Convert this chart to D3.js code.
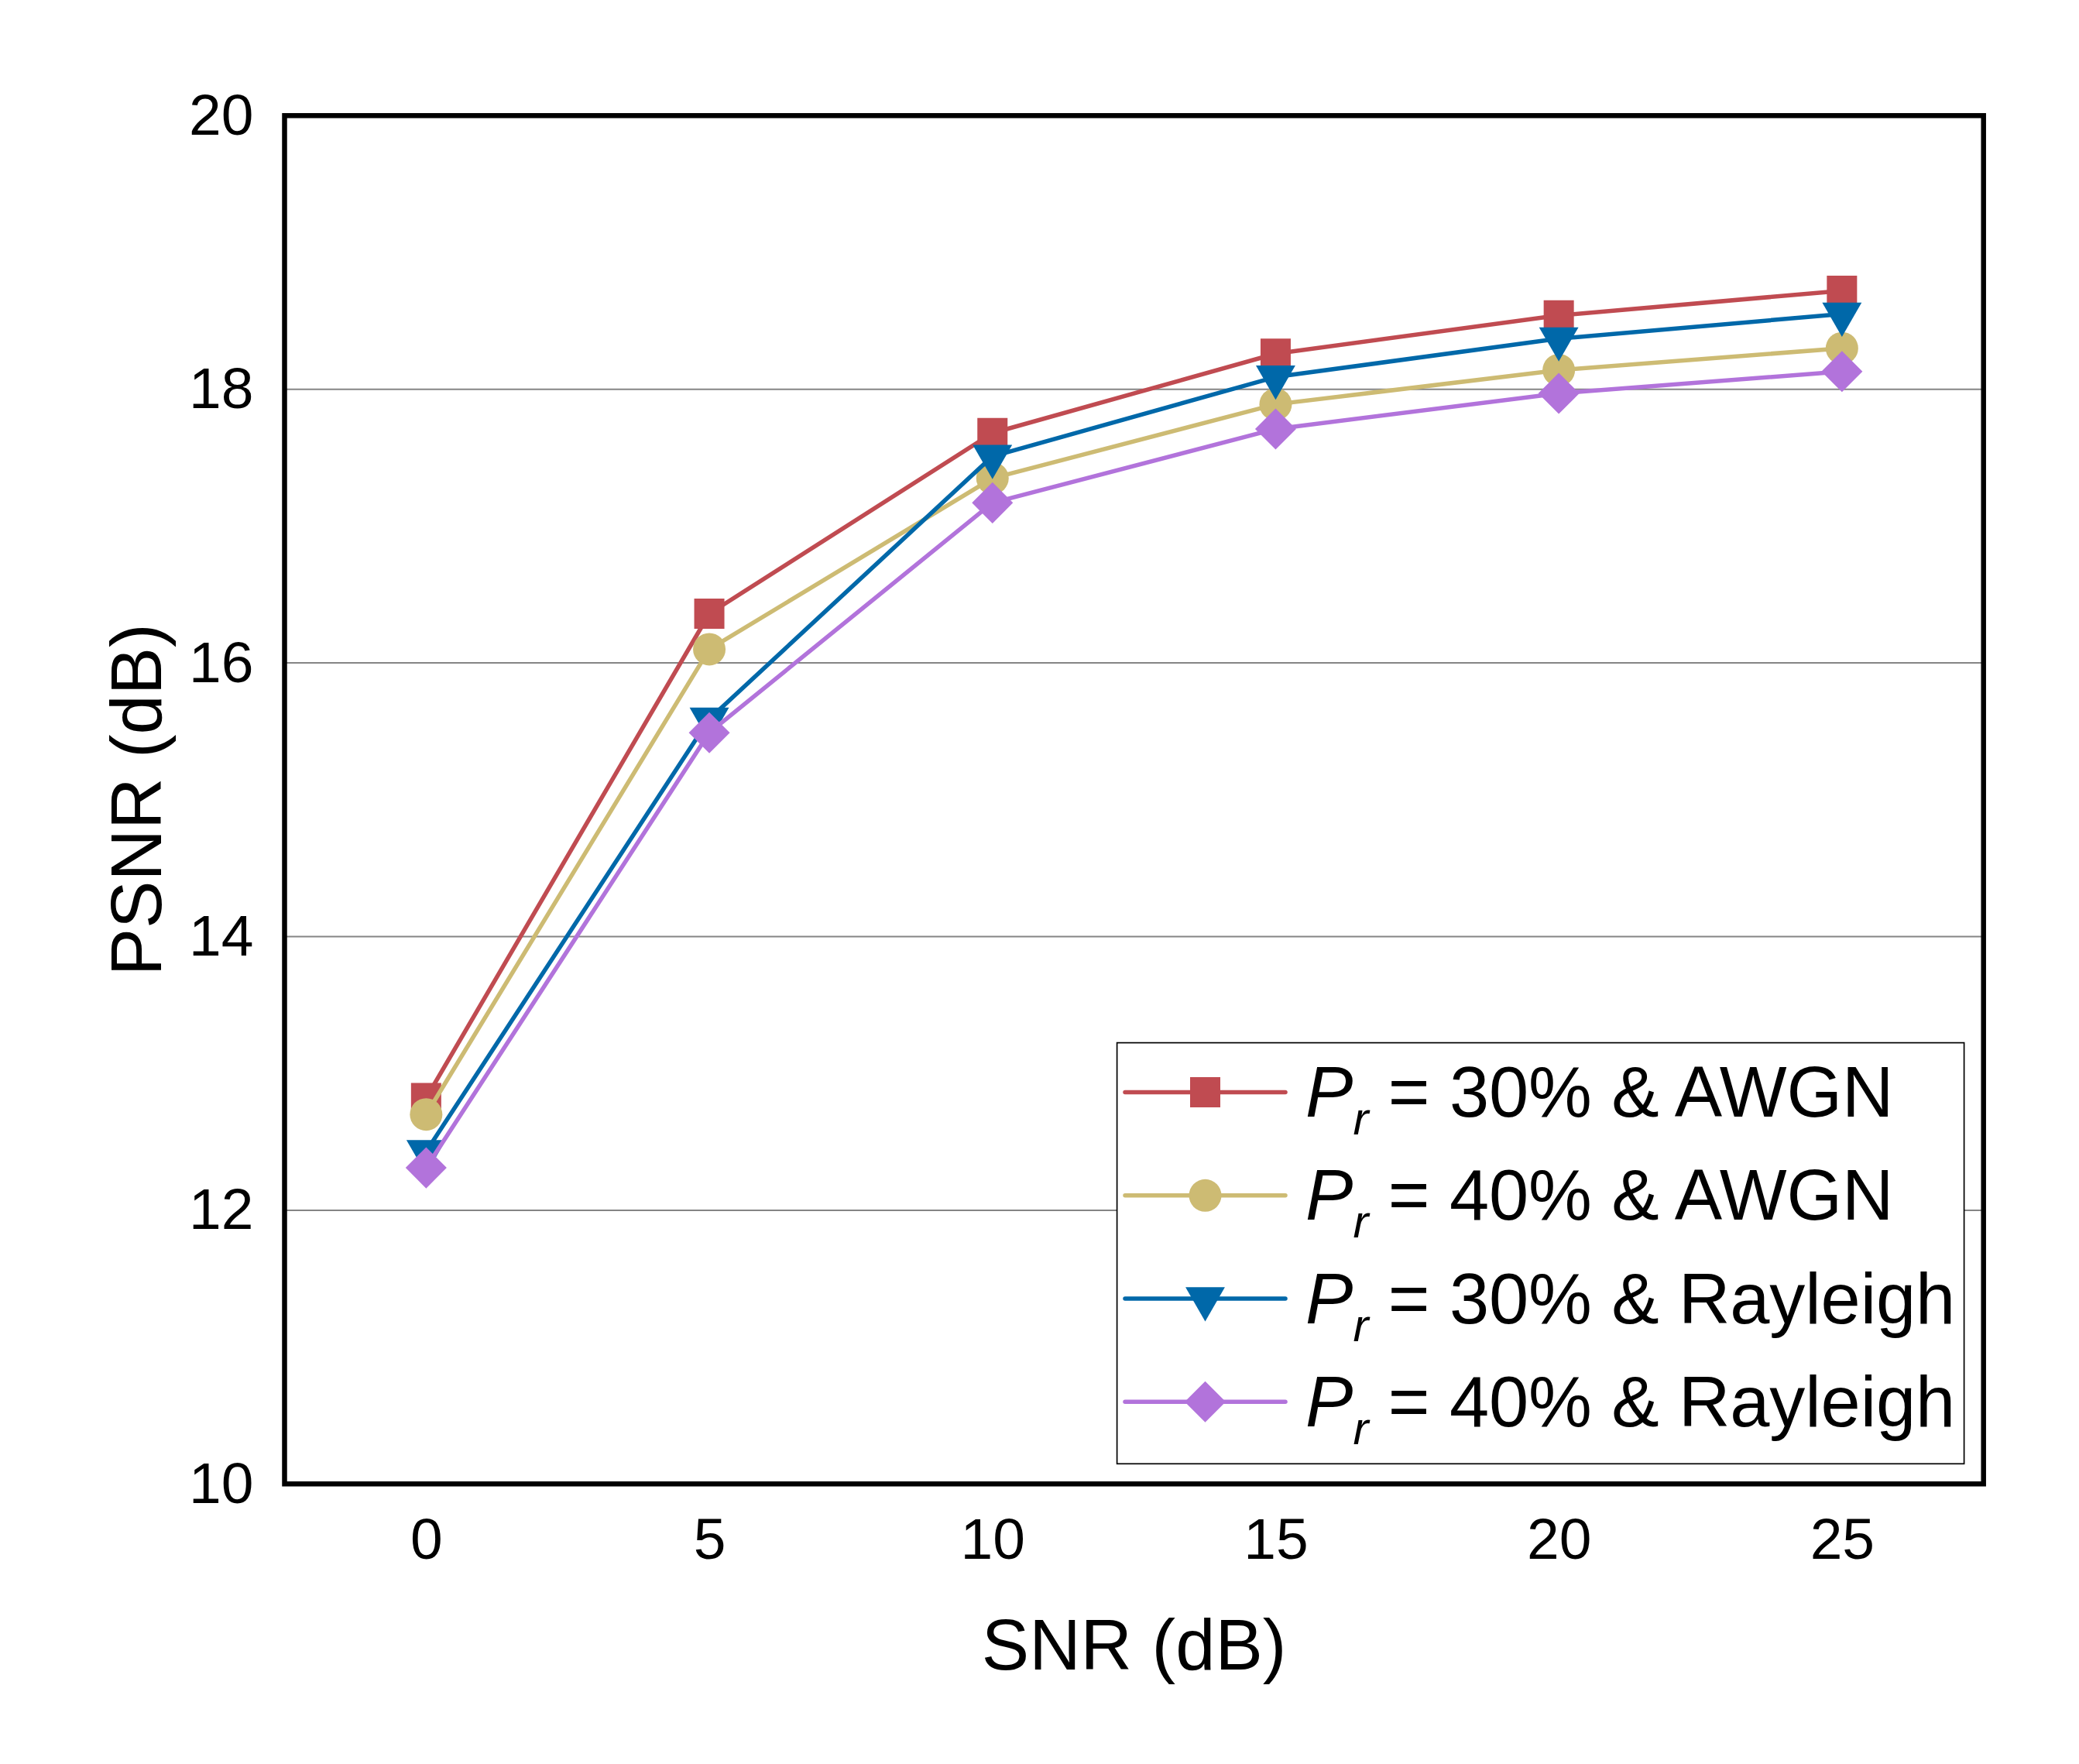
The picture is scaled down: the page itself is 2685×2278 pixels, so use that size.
<!DOCTYPE html>
<html>
<head>
<meta charset="utf-8">
<script src="https://cdn.jsdelivr.net/npm/d3@7"></script>
<style>
  body { margin: 0; background: #ffffff; }
  svg { display: block; font-family: 'Liberation Sans', Arial, sans-serif; }
</style>
</head>
<body>
<svg id="chart"></svg>
<script>
// Values
const snrValues = [0, 5, 10, 15, 20, 25];
const psnrPr30Awgn = [12.82, 16.36, 17.68, 18.26, 18.54, 18.72];
const psnrPr40Awgn = [12.70, 16.10, 17.35, 17.89, 18.14, 18.30];
const psnrPr30Rayleigh = [12.43, 15.59, 17.51, 18.09, 18.37, 18.55];
const psnrPr40Rayleigh = [12.31, 15.49, 17.17, 17.71, 17.97, 18.13];

const prLabels = ['30%', '40%', '30%', '40%'];
const channelLabels = ['AWGN', 'AWGN', 'Rayleigh', 'Rayleigh'];
const yTickValues = [10, 12, 14, 16, 18, 20];
const gridValues = [12, 14, 16, 18];
const xDomain = [-2.5, 27.5];
const yDomain = [10, 20];

const SVGWidth = 2685;
const SVGHeight = 2278;
const plot = {left: 367.5, right: 2561.7, top: 149.3, bottom: 1916.3};

let svg = d3.select('#chart')
  .attr('width', SVGWidth)
  .attr('height', SVGHeight);

svg.append('rect')
  .attr('width', SVGWidth)
  .attr('height', SVGHeight)
  .style('fill', '#ffffff');

let xScale = d3.scaleLinear()
  .domain(xDomain)
  .range([plot.left, plot.right]);

let yScale = d3.scaleLinear()
  .domain(yDomain)
  .range([plot.bottom, plot.top]);

// Horizontal grid lines
svg.append('g')
  .attr('class', 'grid')
  .selectAll('line')
  .data(gridValues)
  .join('line')
  .attr('x1', plot.left)
  .attr('x2', plot.right)
  .attr('y1', d => yScale(d))
  .attr('y2', d => yScale(d))
  .style('stroke', '#858585')
  .style('stroke-width', 2);

// Series: each one draws its line and then its markers
let series = [
  {values: psnrPr30Awgn, color: '#C04B51', symbol: d3.symbolSquare, size: 1521, rotate: 0},
  {values: psnrPr40Awgn, color: '#CDBB73', symbol: d3.symbolCircle, size: 1385, rotate: 0},
  {values: psnrPr30Rayleigh, color: '#0068A9', symbol: d3.symbolTriangle, size: 1122, rotate: 180},
  {values: psnrPr40Rayleigh, color: '#B273DB', symbol: d3.symbolSquare, size: 1406, rotate: 45}
];
series.forEach((s, i) => {
  s.pr = prLabels[i];
  s.channel = channelLabels[i];
  s.points = snrValues.map((x, j) => ({x: x, y: s.values[j]}));
});

let lineGen = d3.line()
  .x(d => xScale(d.x))
  .y(d => yScale(d.y));

let seriesGroup = svg.append('g').attr('class', 'series-group');

series.forEach(s => {
  let g = seriesGroup.append('g');

  g.append('path')
    .datum(s.points)
    .attr('d', lineGen)
    .style('fill', 'none')
    .style('stroke', s.color)
    .style('stroke-width', 5.5)
    .style('stroke-linejoin', 'round');

  g.selectAll('path.marker')
    .data(s.points)
    .join('path')
    .attr('class', 'marker')
    .attr('d', d3.symbol().type(s.symbol).size(s.size))
    .attr('transform', d => `translate(${xScale(d.x)}, ${yScale(d.y)}) rotate(${s.rotate})`)
    .style('fill', s.color);
});

// Plot frame
svg.append('rect')
  .attr('x', plot.left)
  .attr('y', plot.top)
  .attr('width', plot.right - plot.left)
  .attr('height', plot.bottom - plot.top)
  .style('fill', 'none')
  .style('stroke', '#000000')
  .style('stroke-width', 6.5);

// Axes (labels only, the frame stands in for the domain)
let yAxis = svg.append('g')
  .attr('transform', `translate(${plot.left}, 0)`)
  .call(d3.axisLeft(yScale).tickValues(yTickValues).tickSize(0).tickPadding(40));

let xAxis = svg.append('g')
  .attr('transform', `translate(0, ${plot.bottom})`)
  .call(d3.axisBottom(xScale).tickValues(snrValues).tickSize(0).tickPadding(43));

[yAxis, xAxis].forEach(ax => {
  ax.select('.domain').remove();
  ax.selectAll('text')
    .style('font-family', "'Liberation Sans', Arial, sans-serif")
    .style('font-size', '75px')
    .style('fill', '#000000');
});

// Axis titles
svg.append('text')
  .attr('x', (plot.left + plot.right) / 2)
  .attr('y', 2156)
  .style('font-size', '92px')
  .style('text-anchor', 'middle')
  .text('SNR (dB)');

svg.append('text')
  .attr('transform', `translate(207.7, ${(plot.top + plot.bottom) / 2}) rotate(-90)`)
  .style('font-size', '92px')
  .style('text-anchor', 'middle')
  .text('PSNR (dB)');

// Legend
let legendPos = {x: 1442.6, y: 1346.6, width: 1094, height: 543.7};
let legendRowY = i => 1410.6 + i * 133.2;

let legendGroup = svg.append('g').attr('class', 'legend-group');

legendGroup.append('rect')
  .attr('x', legendPos.x)
  .attr('y', legendPos.y)
  .attr('width', legendPos.width)
  .attr('height', legendPos.height)
  .style('fill', '#ffffff')
  .style('stroke', '#000000')
  .style('stroke-width', 1.7);

let legendItems = legendGroup.selectAll('g.legend-item')
  .data(series)
  .join('g')
  .attr('class', 'legend-item')
  .attr('transform', (d, i) => `translate(0, ${legendRowY(i)})`);

legendItems.append('line')
  .attr('x1', 1453)
  .attr('x2', 1660)
  .style('stroke', d => d.color)
  .style('stroke-width', 5.5)
  .style('stroke-linecap', 'round');

legendItems.append('path')
  .attr('d', d => d3.symbol().type(d.symbol).size(d.size)())
  .attr('transform', d => `translate(1556.5, 0) rotate(${d.rotate})`)
  .style('fill', d => d.color);

let legendText = legendItems.append('text')
  .attr('x', 1686)
  .attr('y', 31.6)
  .style('font-size', '92px')
  .style('fill', '#000000');

legendText.append('tspan')
  .style('font-style', 'italic')
  .text('P');

legendText.append('tspan')
  .attr('dy', 23)
  .style('font-style', 'italic')
  .style('font-size', '60px')
  .text('r');

legendText.append('tspan')
  .attr('dy', -23)
  .style('letter-spacing', '-0.1px')
  .text(d => `\u00a0= ${d.pr} & ${d.channel}`);
</script>
</body>
</html>
